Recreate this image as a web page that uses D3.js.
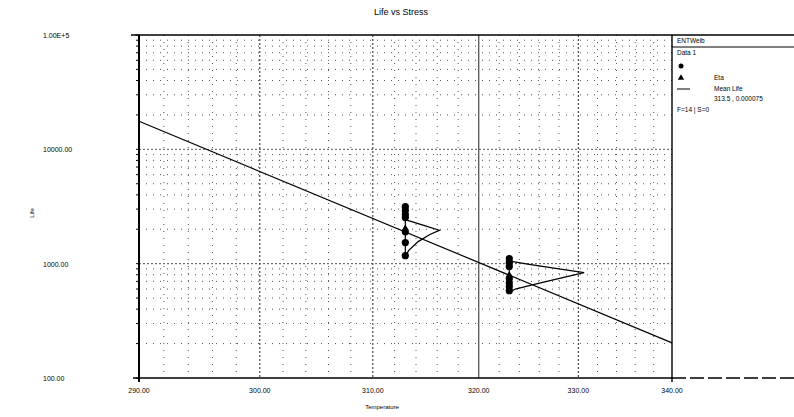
<!DOCTYPE html>
<html>
<head>
<meta charset="utf-8">
<script src="https://cdn.jsdelivr.net/npm/d3@7"></script>
<style>
body { margin: 0; background: #fff; }
text { font-family: "Liberation Sans", Arial, sans-serif; fill: #000; opacity: 0.99; }
</style>
</head>
<body>
<div id="chart"></div>
<script>
// data
var xTicks = [290, 300, 310, 320, 330, 340];
var xTickLabels = ["290.00", "300.00", "310.00", "320.00", "330.00", "340.00"];
var yTicks = [100, 1000, 10000, 100000];
var yTickLabels = ["100.00", "1000.00", "10000.00", "1.00E+5"];

// failure times at each stress level (K)
var stressA = 313, stressB = 323;
var lifeA = [3160, 2920, 2690, 2530, 1900, 1530, 1175];
var lifeB = [1105, 1020, 945, 740, 680, 630, 580];

// eta points
var etaTemps = [313, 323];
var etaLife = [2050, 800];

// mean life line
var lineTemps = [290, 340];
var lineLife = [17600, 203];

// pdf outlines (temperature, life)
var pdfA_T = [313.0, 313.3, 314.2, 315.3, 316.2, 314.8, 313.6, 313.1];
var pdfA_L = [1150, 1300, 1560, 1800, 1960, 2150, 2330, 2400];
var pdfB_T = [323.0, 323.6, 325.5, 328.5, 330.6, 328.0, 325.0, 323.2];
var pdfB_L = [560, 600, 660, 760, 835, 900, 985, 1045];

var legendLines = ["ENTWeib", "Data 1"];

var W = 794, H = 417;
var pLeft = 139, pRight = 672, pTop = 35, pBottom = 378;

var svg = d3.select("#chart").append("svg")
  .attr("width", W)
  .attr("height", H);

// x is reciprocal temperature (Arrhenius paper)
var x = d3.scaleLinear()
  .domain([1 / 290, 1 / 340])
  .range([pLeft, pRight]);
function xt(t) { return x(1 / t); }

var y = d3.scaleLog()
  .domain([100, 100000])
  .range([pBottom, pTop]);

svg.append("text")
  .attr("x", 401).attr("y", 15)
  .attr("text-anchor", "middle")
  .style("font-size", "9px")
  .text("Life vs Stress");

// grid
var g = svg.append("g");
var xMinor = d3.range(292, 340, 2);
g.selectAll(".vx")
  .data(xMinor)
  .enter().append("line")
  .attr("x1", function(d) { return xt(d); })
  .attr("x2", function(d) { return xt(d); })
  .attr("y1", pTop).attr("y2", pBottom)
  .attr("stroke", function(d) { return d % 10 == 0 ? "#222" : "#555"; })
  .attr("stroke-width", 1)
  .attr("stroke-dasharray", function(d) { return d == 320 ? null : (d % 10 == 0 ? "2,2" : "1,6"); });

var yMinor = [];
[100, 1000, 10000].forEach(function(dec) {
  for (var k = 2; k <= 9; k++) yMinor.push(dec * k);
});
g.selectAll(".hy")
  .data(yMinor.concat([1000, 10000]))
  .enter().append("line")
  .attr("x1", pLeft).attr("x2", pRight)
  .attr("y1", function(d) { return y(d); })
  .attr("y2", function(d) { return y(d); })
  .attr("stroke", "#555")
  .attr("stroke-width", 1)
  .attr("stroke-dasharray", function(d) { return (d == 1000 || d == 10000) ? "2,2" : "1,6"; });

// axes frame
svg.append("line").attr("x1", pLeft).attr("x2", pLeft).attr("y1", pTop).attr("y2", pBottom + 4)
  .attr("stroke", "#000").attr("stroke-width", 2);
svg.append("line").attr("x1", pLeft - 6).attr("x2", pRight).attr("y1", pBottom).attr("y2", pBottom)
  .attr("stroke", "#000").attr("stroke-width", 1.6);
svg.append("line").attr("x1", pRight).attr("x2", W).attr("y1", pBottom).attr("y2", pBottom)
  .attr("stroke", "#000").attr("stroke-width", 1.4).attr("stroke-dasharray", "14,4");
svg.append("line").attr("x1", pRight).attr("x2", pRight).attr("y1", pTop).attr("y2", pBottom + 4)
  .attr("stroke", "#000").attr("stroke-width", 1.4);
svg.append("line").attr("x1", pLeft - 8).attr("x2", W).attr("y1", pTop).attr("y2", pTop)
  .attr("stroke", "#000").attr("stroke-width", 1.4);
svg.append("line").attr("x1", pRight).attr("x2", W).attr("y1", 47).attr("y2", 47)
  .attr("stroke", "#000").attr("stroke-width", 1);

// ticks
svg.selectAll(".yt")
  .data(yMinor.concat(yTicks))
  .enter().append("line")
  .attr("x1", pLeft - 3).attr("x2", pLeft)
  .attr("y1", function(d) { return y(d); })
  .attr("y2", function(d) { return y(d); })
  .attr("stroke", "#000");
svg.selectAll(".ytl")
  .data(yTicks)
  .enter().append("text")
  .attr("x", 43)
  .attr("y", function(d) { return y(d) + 3; })
  .style("font-size", "7px")
  .text(function(d, i) { return yTickLabels[i]; });
svg.selectAll(".xtl")
  .data(xTicks)
  .enter().append("text")
  .attr("x", function(d) { return xt(d); })
  .attr("y", 393)
  .attr("text-anchor", "middle")
  .style("font-size", "7px")
  .text(function(d, i) { return xTickLabels[i]; });

svg.append("text")
  .attr("x", 382).attr("y", 409)
  .attr("text-anchor", "middle")
  .style("font-size", "6px")
  .text("Temperature");
svg.append("text")
  .attr("transform", "translate(34,213) rotate(-90)")
  .attr("text-anchor", "middle")
  .style("font-size", "6px")
  .text("Life");

// mean life line
var line = d3.line()
  .x(function(d) { return xt(d[0]); })
  .y(function(d) { return y(d[1]); });
svg.append("path")
  .datum(d3.zip(lineTemps, lineLife))
  .attr("d", line)
  .attr("fill", "none")
  .attr("stroke", "#000")
  .attr("stroke-width", 1.2);

// pdf outlines
[[pdfA_T, pdfA_L], [pdfB_T, pdfB_L]].forEach(function(p) {
  svg.append("path")
    .datum(d3.zip(p[0], p[1]))
    .attr("d", line)
    .attr("fill", "none")
    .attr("stroke", "#000")
    .attr("stroke-width", 1.3);
});

// vertical connectors through the data
[[stressA, lifeA], [stressB, lifeB]].forEach(function(s) {
  svg.append("line")
    .attr("x1", xt(s[0])).attr("x2", xt(s[0]))
    .attr("y1", y(d3.max(s[1]))).attr("y2", y(d3.min(s[1])))
    .attr("stroke", "#000").attr("stroke-width", 1.2);
});

// failure points
svg.selectAll(".pa")
  .data(lifeA)
  .enter().append("circle")
  .attr("cx", xt(stressA))
  .attr("cy", function(d) { return y(d); })
  .attr("r", 3.6)
  .attr("fill", "#000");
svg.selectAll(".pb")
  .data(lifeB)
  .enter().append("circle")
  .attr("cx", xt(stressB))
  .attr("cy", function(d) { return y(d); })
  .attr("r", 3.6)
  .attr("fill", "#000");

// eta triangles
var tri = d3.symbol().type(d3.symbolTriangle).size(18);
svg.selectAll(".eta")
  .data(etaTemps)
  .enter().append("path")
  .attr("d", tri)
  .attr("transform", function(d, i) { return "translate(" + xt(d) + "," + y(etaLife[i]) + ")"; })
  .attr("fill", "#000");

// legend
svg.append("text").attr("x", 677).attr("y", 43).style("font-size", "6.5px").text(legendLines[0]);
svg.append("text").attr("x", 677).attr("y", 55).style("font-size", "6.5px").text(legendLines[1]);
svg.append("circle").attr("cx", 681).attr("cy", 66).attr("r", 2.5).attr("fill", "#000");
svg.append("path").attr("d", tri).attr("transform", "translate(681,78)").attr("fill", "#000");
svg.append("text").attr("x", 714).attr("y", 80).style("font-size", "6.5px").text("Eta");
svg.append("line").attr("x1", 677).attr("x2", 690).attr("y1", 89).attr("y2", 89)
  .attr("stroke", "#000").attr("stroke-width", 1);
svg.append("text").attr("x", 714).attr("y", 91).style("font-size", "6.5px").text("Mean Life");
svg.append("text").attr("x", 714).attr("y", 101).style("font-size", "6.5px").text("313.5 , 0.000075");
svg.append("text").attr("x", 677).attr("y", 112).style("font-size", "6.5px").text("F=14 | S=0");
</script>
</body>
</html>
